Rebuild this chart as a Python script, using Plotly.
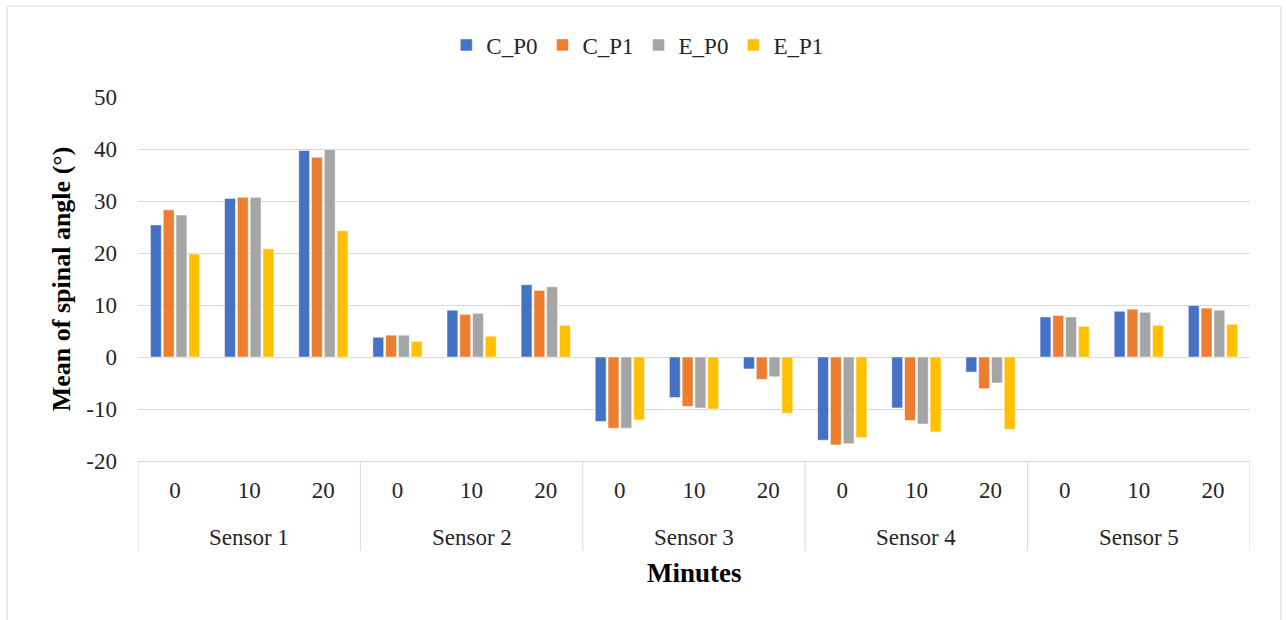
import plotly.graph_objects as go

sensors = ["Sensor 1", "Sensor 2", "Sensor 3", "Sensor 4", "Sensor 5"]
minutes = ["0", "10", "20"]
series_names = ["C_P0", "C_P1", "E_P0", "E_P1"]
colors = ["#4472C4", "#ED7D31", "#A5A5A5", "#FFC000"]
y_ticks = [-20, -10, 0, 10, 20, 30, 40, 50]

C_P0 = [25.4, 30.5, 39.7, 3.8, 9.0, 13.9, -12.4, -7.8, -2.3, -16.0, -9.8, -2.9, 7.7, 8.8, 9.9]
C_P1 = [28.3, 30.7, 38.4, 4.2, 8.2, 12.8, -13.7, -9.5, -4.3, -16.9, -12.2, -6.1, 8.0, 9.2, 9.4]
E_P0 = [27.3, 30.7, 39.9, 4.2, 8.4, 13.5, -13.7, -9.8, -3.8, -16.7, -12.9, -5.0, 7.7, 8.6, 9.0]
E_P1 = [19.8, 20.8, 24.3, 3.0, 4.0, 6.1, -12.1, -10.0, -10.8, -15.5, -14.4, -13.9, 5.9, 6.1, 6.3]
values = [C_P0, C_P1, E_P0, E_P1]

n_min = len(minutes)
x_pos = list(range(len(sensors) * n_min))
x_text = [m for _ in sensors for m in minutes]

fig = go.Figure()
for name, vals, col in zip(series_names, values, colors):
    fig.add_trace(go.Bar(
        name=name, x=x_pos, y=vals,
        marker=dict(color=col, line=dict(color="white", width=0.5)),
    ))

font_family = "Liberation Serif, Times New Roman, serif"
grid = "#D9D9D9"
fig.update_layout(
    width=1286, height=620,
    paper_bgcolor="white", plot_bgcolor="white",
    margin=dict(l=138, r=36, t=97, b=159, autoexpand=False),
    barmode="group", bargap=0.31, bargroupgap=0.15,
    font=dict(family=font_family, size=23, color="#262626"),
    legend=dict(orientation="h", x=0.449, xanchor="center", y=1.143, yanchor="middle",
                font=dict(size=23), itemwidth=30, traceorder="normal"),
    showlegend=True,
)
fig.update_yaxes(
    range=[-20, 50], tickvals=y_ticks, ticktext=[str(v) for v in y_ticks],
    showgrid=True, gridcolor=grid, gridwidth=1,
    zeroline=True, zerolinecolor=grid, zerolinewidth=1,
    ticks="", ticklabelstandoff=20, tickfont=dict(size=23), automargin=False,
)
fig.update_xaxes(
    range=[-0.5, len(x_pos) - 0.5], tickvals=x_pos, ticktext=x_text,
    showline=True, linecolor=grid, linewidth=1, showgrid=False, zeroline=False,
    ticks="", ticklabelstandoff=8, tickfont=dict(size=23), automargin=False,
)
# sensor group labels and dividers
for i, s in enumerate(sensors):
    fig.add_annotation(x=i * n_min + (n_min - 1) / 2, y=-0.209, xref="x", yref="paper",
                       text=s, showarrow=False, font=dict(size=23, color="#262626"),
                       yanchor="middle")
for i in range(len(sensors) + 1):
    fig.add_shape(type="line", xref="x", yref="paper",
                  x0=i * n_min - 0.5, x1=i * n_min - 0.5, y0=0, y1=-0.247,
                  line=dict(color=grid, width=1))
# axis titles
fig.add_annotation(x=0.5, y=-0.308, xref="paper", yref="paper", text="<b>Minutes</b>",
                   showarrow=False, font=dict(size=27, color="black"), yanchor="middle")
fig.add_annotation(x=-0.069, y=0.5, xref="paper", yref="paper",
                   text="<b>Mean of spinal angle (°)</b>", textangle=-90,
                   showarrow=False, font=dict(size=26, color="black"),
                   xanchor="center", yanchor="middle")
# outer chart border
fig.add_shape(type="rect", xref="paper", yref="paper",
              x0=-0.1178, x1=1.0279, y0=-0.6, y1=1.25,
              line=dict(color=grid, width=1), fillcolor="rgba(0,0,0,0)", layer="below")

fig.write_html("out.html", config={"displayModeBar": False},
               post_script="document.body.style.margin='0px';document.body.style.overflow='hidden';")
